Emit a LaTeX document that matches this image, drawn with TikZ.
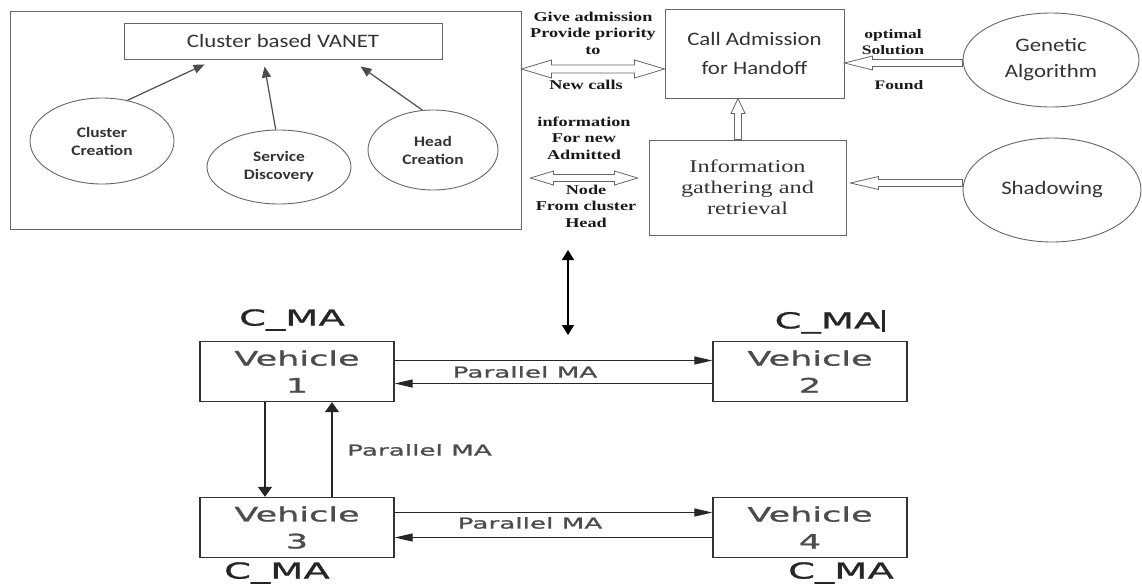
\documentclass[tikz,border=0pt]{standalone}
\usepackage{fontspec}
\setmainfont{Liberation Serif}
\newfontfamily\calfont[FakeStretch=1.2]{Carlito}
\newfontfamily\serfont[FakeStretch=1.35]{Liberation Serif}
\newfontfamily\vehfont[FakeStretch=1.75, FakeBold=1.2]{DejaVu Sans}
\usetikzlibrary{positioning, arrows.meta, calc, shapes.geometric}
\definecolor{ink}{gray}{0.2}
\definecolor{edge}{gray}{0.4}

\begin{document}
\begin{tikzpicture}[x=1pt, y=-1pt,
  frame/.style={draw=edge, line width=.9pt, inner sep=0pt},
  title/.style={frame, minimum width=318pt, minimum height=36pt, text=ink,
                font=\calfont\fontsize{19}{23}\selectfont},
  blob/.style={ellipse, draw=edge, line width=.9pt, inner sep=0pt, align=center,
               text=ink, font=\calfont\bfseries\fontsize{14.5}{18}\selectfont},
  bigblob/.style={blob, font=\calfont\fontsize{19}{26}\selectfont},
  stage/.style={frame, align=center, text=ink},
  tag/.style={align=center, inner sep=0pt, text=black!90,
              font=\serfont\bfseries\fontsize{13.5}{16.5}\selectfont},
  ar/.style={-{Triangle[length=11pt, width=9pt]}, draw=black!70, line width=1.2pt},
  hollow/.style={draw=edge, line width=.8pt, fill=white, line join=miter},
  vbox/.style={draw=black!80, line width=1.3pt, minimum width=194pt, minimum height=60pt,
               inner sep=0pt, align=center, text=black!70,
               font=\vehfont\fontsize{20}{27}\selectfont},
  cma/.style={inner sep=0pt, text=black!85, font=\vehfont\fontsize{22}{26}\selectfont},
  lbl/.style={inner sep=0pt, text=black!70, font=\vehfont\fontsize{15}{18}\selectfont},
  harr/.style={-{Triangle[length=18pt, width=8pt]}, draw=black!85, line width=1.1pt},
  varr/.style={-{Triangle[length=10pt, width=14pt]}, draw=black!85, line width=1.3pt},
  link/.style={{Triangle[length=10pt, width=12pt]}-{Triangle[length=10pt, width=12pt]},
               line width=1.5pt},
]
\useasboundingbox (0,0) rectangle (1142,587);

% upper part: clustering and call admission
\node[frame, minimum width=511pt, minimum height=218pt] (vanetarea) at (265.5,120) {};
\node[title] (vanet) at (283,41) {Cluster based VANET};
\node[blob, minimum width=144pt, minimum height=86pt] (cc) at (102,141) {Cluster\\Creation};
\node[blob, minimum width=144pt, minimum height=74pt] (sd) at (279,167) {Service\\Discovery};
\node[blob, minimum width=130pt, minimum height=80pt] (hc) at (433,150) {Head\\Creation};

\node[stage, minimum width=179pt, minimum height=89pt,
      font=\calfont\fontsize{19}{29}\selectfont] (ca) at (754.5,53.5) {Call Admission\\for Handoff};
\node[stage, minimum width=197pt, minimum height=95pt,
      font=\serfont\fontsize{18}{21}\selectfont] (info) at (747.5,187.5) {Information\\gathering and\\retrieval};
\node[bigblob, minimum width=176pt, minimum height=94pt] (ga) at (1051,60) {Genetic\\Algorithm};
\node[bigblob, minimum width=178pt, minimum height=104pt] (sh) at (1052,190) {Shadowing};

\draw[ar] (cc.58) -- ([xshift=81pt,yshift=-5pt]vanet.south west);
\draw[ar] (sd.95) -- ([xshift=141pt,yshift=-7pt]vanet.south west);
\draw[ar] (hc.105) -- ([xshift=237pt,yshift=-7pt]vanet.south west);

\node[tag] (give) at (593,33) {Give admission\\Provide priority\\to};
\node[tag] (newc) at (586,85) {New calls};
\node[tag] (infl) at (584,138) {information\\For new\\Admitted};
\node[tag] (nodel) at (586,206) {Node\\From cluster\\Head};
\node[tag, font=\serfont\bfseries\fontsize{13}{16.5}\selectfont] (opt) at (893,42) {optimal\\Solution};
\node[tag, font=\serfont\bfseries\fontsize{13}{16.5}\selectfont] (found) at (899,85) {Found};

% hollow arrows
\draw[hollow] let \p1=(vanetarea.east |- 0,69), \p2=(ca.west |- 0,69) in
  (\x1,\y1) -- ++(30pt,9pt) -- ++(0,-5pt) -- (\x2-30pt,\y1+4pt) -- ++(0,5pt) -- (\x2,\y1)
  -- ++(-30pt,-9pt) -- ++(0,5pt) -- (\x1+30pt,\y1-4pt) -- ++(0,-5pt) -- cycle;
\draw[hollow] let \p1=(vanetarea.east), \p2=(info.west), \p3=(0,178) in
  (\x1+9pt,\y3) -- ++(23pt,7pt) -- ++(0,-3.5pt) -- (\x2-34pt,\y3+3.5pt) -- ++(0,3.5pt) -- (\x2-11pt,\y3)
  -- ++(-23pt,-7pt) -- ++(0,3.5pt) -- (\x1+32pt,\y3-3.5pt) -- ++(0,-3.5pt) -- cycle;
\draw[hollow] let \p1=([yshift=-3pt]ga.west), \p2=(ca.east) in
  (\x2,\y1) -- ++(28pt,7pt) -- ++(0,-3.5pt) -- (\x1,\y1+3.5pt) -- ++(0,-7pt)
  -- (\x2+28pt,\y1-3.5pt) -- ++(0,-3.5pt) -- cycle;
\draw[hollow] let \p1=([yshift=7pt]sh.west), \p2=(info.east) in
  (\x2+4pt,\y1) -- ++(28pt,6.5pt) -- ++(0,-3pt) -- (\x1,\y1+3.5pt) -- ++(0,-7pt)
  -- (\x2+32pt,\y1-3.5pt) -- ++(0,-3pt) -- cycle;
\draw[hollow] let \p1=(info.north), \p2=(ca.south), \p3=(738,0) in
  (\x3,\y2) -- ++(7pt,-15pt) -- ++(-3.5pt,0) -- (\x3+3.5pt,\y1) -- ++(-7pt,0)
  -- (\x3-3.5pt,\y2-15pt) -- ++(-3.5pt,0) -- cycle;

% link to the vehicles
\coordinate (upper) at (568,250);
\coordinate (lower) at (568,335);
\draw[link] (upper) -- (lower);

% lower part: vehicles with mobile agents
\node[vbox] (v1) at (297,371.5) {Vehicle\\1};
\node[vbox] (v2) at (810,371.5) {Vehicle\\2};
\node[vbox] (v3) at (297,527.5) {Vehicle\\3};
\node[vbox] (v4) at (810,527.5) {Vehicle\\4};

\node[cma] (c1) at (292,320) {C\_MA};
\node[cma] (c2) at (830,322) {C\_MA\hspace{2pt}\rule[-4pt]{3pt}{22pt}};
\node[cma] (c3) at (277,573) {C\_MA};
\node[cma] (c4) at (841,573) {C\_MA};

\draw[harr] ([yshift=11pt]v1.east) -- ([yshift=11pt]v2.west);
\draw[harr] ([yshift=-12pt]v2.west) -- ([yshift=-12pt]v1.east);
\draw[harr] ([yshift=15pt]v3.east) -- ([yshift=15pt]v4.west);
\draw[harr] ([yshift=-10pt]v4.west) -- ([yshift=-10pt]v3.east);
\draw[varr] ([xshift=-32pt]v1.south) -- ([xshift=-32pt]v3.north);
\draw[varr] ([xshift=35pt]v3.north) -- ([xshift=35pt]v1.south);

\node[lbl] (p12) at (525,372) {Parallel MA};
\node[lbl] (p34) at (530,523) {Parallel MA};
\node[lbl, anchor=west] (p13) at (347,450) {Parallel MA};
\end{tikzpicture}
\end{document}
